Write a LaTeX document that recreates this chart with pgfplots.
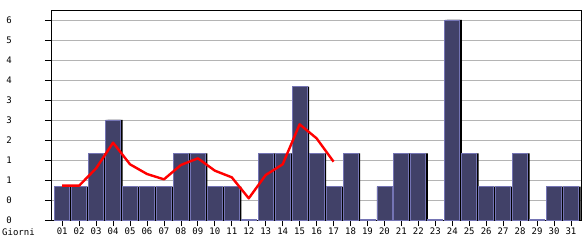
\documentclass[border=0pt]{standalone}
\usepackage{fontspec}
\setmainfont{DejaVu Sans Mono}
\usepackage{pgfplots}
\pgfplotsset{compat=1.18}
\definecolor{barfill}{HTML}{414168}
\definecolor{baredge}{HTML}{7474B4}
\definecolor{gridc}{HTML}{B4B4B4}
\begin{document}
\fontsize{9bp}{10bp}\selectfont
\begin{tikzpicture}
\begin{axis}[
  name=ax,
  scale only axis,
  width=530bp, height=210bp,
  xmin=0.34, xmax=31.59,
  ymin=0, ymax=6.3,
  axis line style={black, line width=0.8bp},
  tick style={black, line width=0.8bp},
  tick align=outside,
  tick pos=left,
  major tick length=6bp,
  xtick={1,...,31},
  xticklabels={01,02,03,04,05,06,07,08,09,10,11,12,13,14,15,16,17,18,19,20,21,22,23,24,25,26,27,28,29,30,31},
  ytick={0,0.6,1.2,1.8,2.4,3.0,3.6,4.2,4.8,5.4,6.0},
  yticklabels={0,0,1,1,2,3,3,4,4,5,6},
  yticklabel style={anchor=east, xshift=-30bp},
  xticklabel style={yshift=1bp},
  ymajorgrids,
  major grid style={gridc, line width=0.8bp},
  every tick label/.append style={font=\fontsize{9bp}{10bp}\selectfont},
  clip=false,
]
% shadow
\addplot[ybar, bar width=15bp, bar shift=2bp, fill=black, draw=none] coordinates {
(1,1)(2,1)(3,2)(4,3)(5,1)(6,1)(7,1)(8,2)(9,2)(10,1)(11,1)(12,0)(13,2)(14,2)(15,4)(16,2)
(17,1)(18,2)(19,0)(20,1)(21,2)(22,2)(23,0)(24,6)(25,2)(26,1)(27,1)(28,2)(29,0)(30,1)(31,1)};
% bars
\addplot[ybar, bar width=15bp, bar shift=0bp, fill=barfill, draw=baredge, line width=0.8bp] coordinates {
(1,1)(2,1)(3,2)(4,3)(5,1)(6,1)(7,1)(8,2)(9,2)(10,1)(11,1)(12,0.03)(13,2)(14,2)(15,4)(16,2)
(17,1)(18,2)(19,0.03)(20,1)(21,2)(22,2)(23,0.03)(24,6)(25,2)(26,1)(27,1)(28,2)(29,0.03)(30,1)(31,1)};
% trend line
\addplot[red, line width=2.4bp, sharp plot, mark=none, line join=round] coordinates {
(1,1.03)(2,1.03)(3,1.55)(4,2.32)(5,1.67)(6,1.38)(7,1.22)(8,1.65)(9,1.85)(10,1.48)(11,1.28)
(12,0.65)(13,1.35)(14,1.67)(15,2.87)(16,2.45)(17,1.75)};
\end{axis}
\node[anchor=west, inner sep=0pt] at ([xshift=-49bp, yshift=-12bp]ax.south west) {Giorni};
\pgfresetboundingbox
\path ([xshift=-51bp, yshift=-20bp]ax.south west) rectangle ++(585bp,240bp);
\end{tikzpicture}
\end{document}
